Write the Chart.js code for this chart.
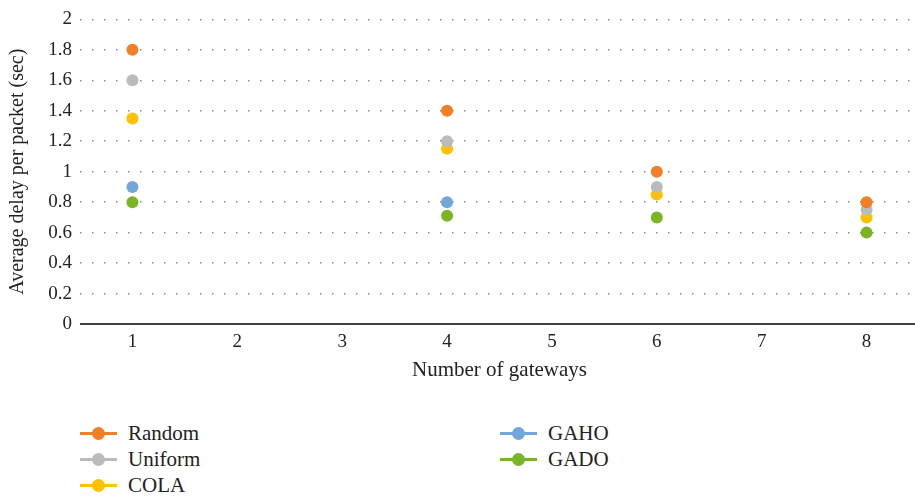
<!DOCTYPE html>
<html>
<head>
<meta charset="utf-8">
<script src="https://cdn.jsdelivr.net/npm/chart.js@4"></script>
<style>
  body { margin: 0; background: #fff; font-family: "Liberation Serif", serif; }
  #wrap { position: relative; width: 915px; height: 498px; overflow: hidden; }
  #box { position: absolute; left: 0; top: 0; width: 925px; height: 383px; }
  .leg { position: absolute; font-size: 21px; color: #222; line-height: 24px; }
  .leg .sw { position: absolute; left: 0; top: 11px; width: 37px; height: 3px; }
  .leg .dot { position: absolute; left: 12px; top: 6px; width: 13px; height: 13px; border-radius: 50%; }
  .leg .txt { position: absolute; left: 48px; top: 0; white-space: nowrap; }
</style>
</head>
<body>
<div id="wrap">
  <div id="box"><canvas id="myChart"></canvas></div>
</div>
<script>
let gateways = ["1", "2", "3", "4", "5", "6", "7", "8"];
let random = [1.8, null, null, 1.4, null, 1.0, null, 0.8];
let uniform = [1.6, null, null, 1.2, null, 0.9, null, 0.75];
let cola = [1.35, null, null, 1.15, null, 0.85, null, 0.7];
let gaho = [0.9, null, null, 0.8, null, null, null, null];
let gado = [0.8, null, null, 0.71, null, 0.7, null, 0.6];
let yTicks = [0, 0.2, 0.4, 0.6, 0.8, 1, 1.2, 1.4, 1.6, 1.8, 2];

let series = [
  { name: "Random", data: random, color: "#F07F26" },
  { name: "Uniform", data: uniform, color: "#BBBBBB" },
  { name: "COLA", data: cola, color: "#FFC000" },
  { name: "GAHO", data: gaho, color: "#72A6DB" },
  { name: "GADO", data: gado, color: "#7AB526" },
];

let font = "'Liberation Serif', serif";

let ctx = document.getElementById("myChart").getContext("2d");
let myChart = new Chart(ctx, {
  type: "line",
  data: {
    labels: gateways,
    datasets: series.map((s) => {
      return {
        label: s.name,
        data: s.data,
        showLine: false,
        pointRadius: 6,
        pointHoverRadius: 6,
        pointBackgroundColor: s.color,
        pointBorderColor: s.color,
        pointBorderWidth: 0,
        borderColor: s.color,
        backgroundColor: s.color,
      };
    }),
  },
  options: {
    responsive: true,
    maintainAspectRatio: false,
    animation: false,
    layout: { padding: { left: 0, right: 0, top: 1, bottom: 0 } },
    plugins: {
      legend: { display: false },
      tooltip: { enabled: false },
    },
    scales: {
      x: {
        offset: true,
        afterFit: (axis) => {
          axis.height = 59;
        },
        grid: { display: false, drawTicks: false },
        border: { display: false },
        ticks: { color: "#222", font: { family: font, size: 19 }, padding: 7 },
        title: {
          display: true,
          text: "Number of gateways",
          color: "#222",
          font: { family: font, size: 21 },
          padding: { top: 4, bottom: 0 },
        },
      },
      y: {
        min: 0,
        max: 2,
        afterBuildTicks: (axis) => {
          axis.ticks = yTicks.map((v) => ({ value: v }));
        },
        afterFit: (axis) => {
          axis.width = 80;
        },
        grid: {
          color: (c) => (c.tick && c.tick.value === 0 ? "#404040" : "#888"),
          lineWidth: (c) => (c.tick && c.tick.value === 0 ? 2 : 1.5),
          drawTicks: false,
        },
        border: { display: false },
        ticks: {
          color: "#222",
          font: { family: font, size: 19 },
          padding: 8,
          callback: (v) => String(v),
        },
        title: {
          display: true,
          text: "Average delay per packet (sec)",
          color: "#222",
          font: { family: font, size: 20 },
          padding: { top: 6, bottom: 0 },
        },
      },
    },
  },
});

// dotted grid except the zero line
myChart.options.scales.y.border.dash = (c) => (c.tick && c.tick.value === 0 ? [] : [1.5, 10.5]);
myChart.update();

// legend in two columns
let wrap = document.getElementById("wrap");
let spots = [
  [80, 421], [80, 447], [80, 473],
  [500, 421], [500, 447],
];
series.forEach((s, i) => {
  let d = document.createElement("div");
  d.className = "leg";
  d.style.left = spots[i][0] + "px";
  d.style.top = spots[i][1] + "px";
  d.innerHTML =
    '<div class="sw" style="background:' + s.color + '"></div>' +
    '<div class="dot" style="background:' + s.color + '"></div>' +
    '<div class="txt">' + s.name + "</div>";
  wrap.appendChild(d);
});
</script>
</body>
</html>
